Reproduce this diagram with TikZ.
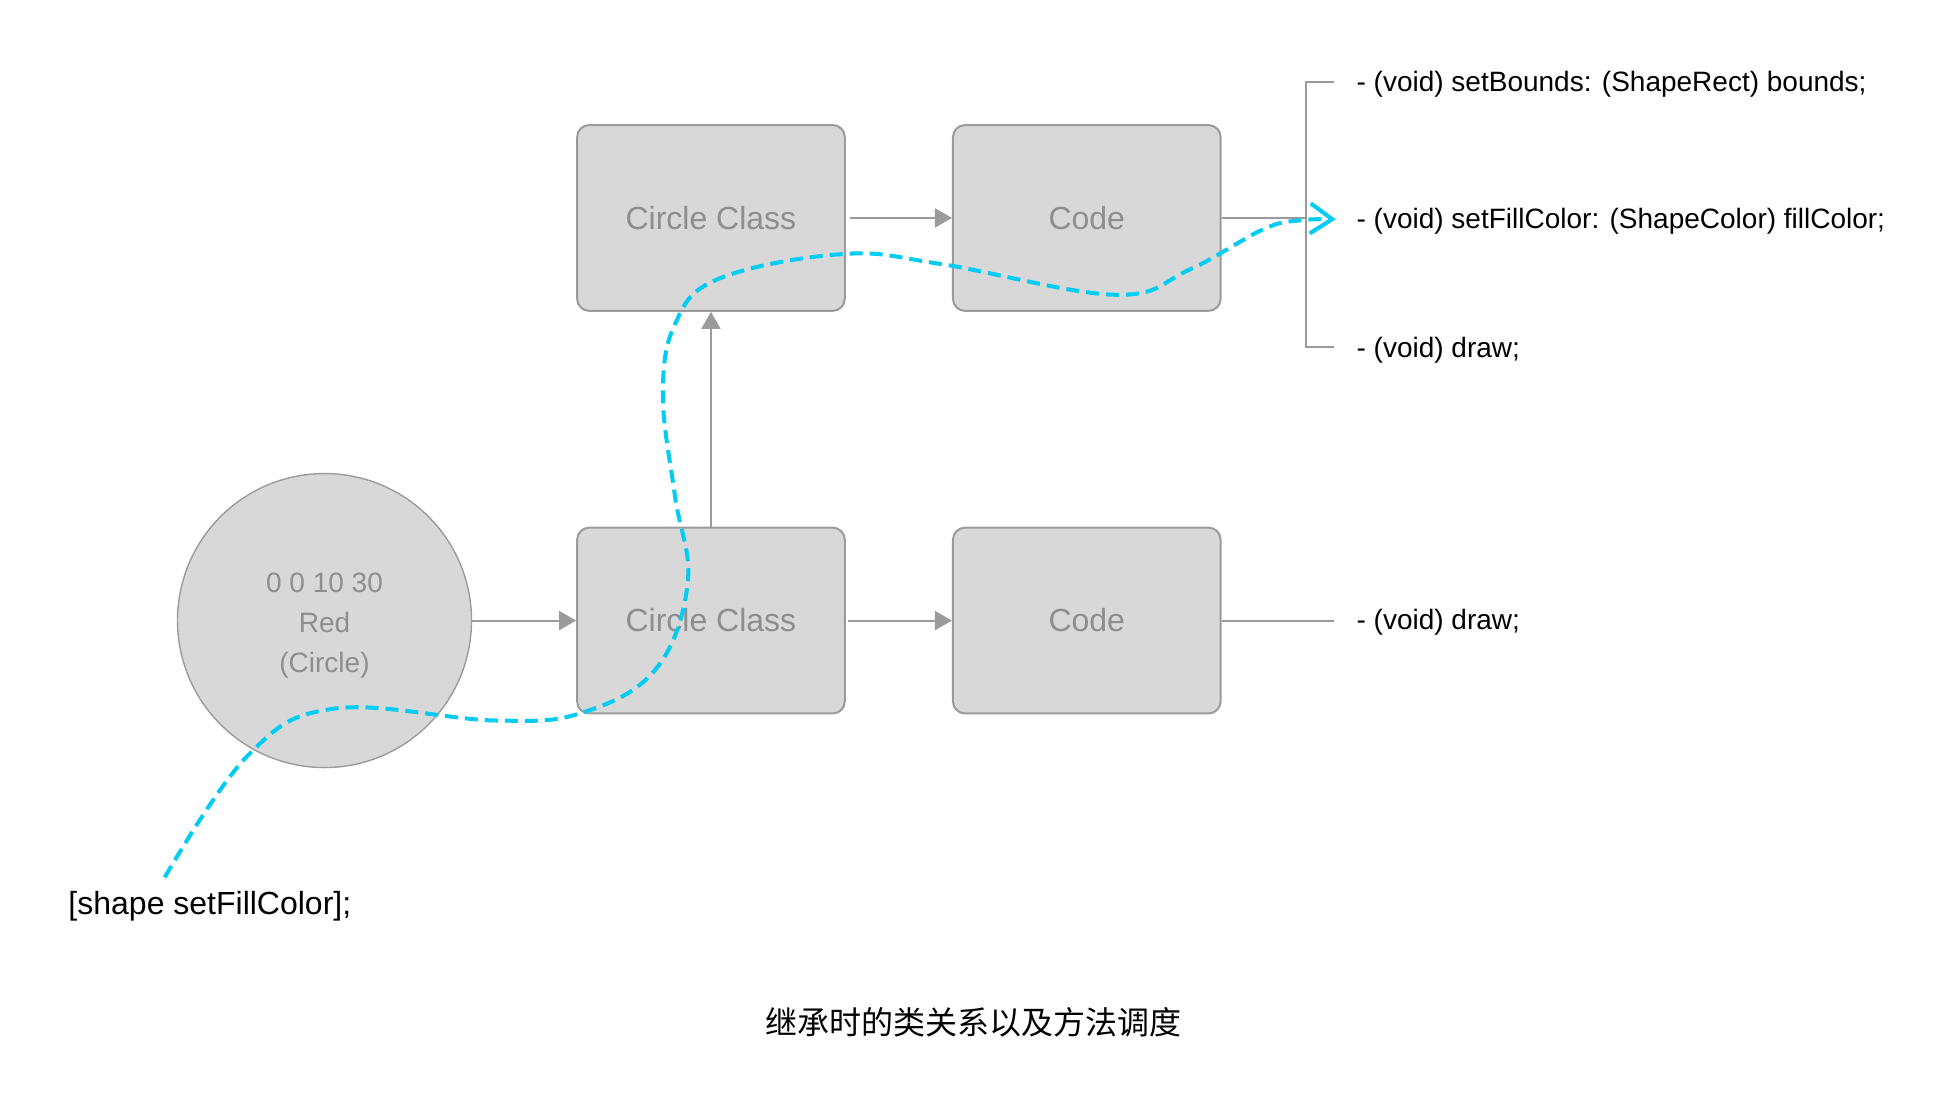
\documentclass[tikz,border=0pt]{standalone}
\usepackage{fontspec}
\setmainfont{Liberation Sans}
\newfontfamily\cjk{Noto Sans CJK SC}
\usetikzlibrary{arrows.meta}
\definecolor{boxfill}{HTML}{D8D8D8}
\definecolor{boxline}{HTML}{9B9B9B}
\definecolor{boxtext}{HTML}{8E8E8E}
\definecolor{callcyan}{HTML}{00CCF5}
\begin{document}
\begin{tikzpicture}[x=0.4962pt,y=-0.4962pt,
 classbox/.style={draw=boxline, fill=boxfill, line width=1pt, rounded corners=6pt, minimum width=133.8pt, minimum height=92.9pt, inner sep=0pt, text=boxtext, font=\fontsize{16}{19}\selectfont},
 objcircle/.style={circle, draw=boxline, fill=boxfill, line width=0.7pt, minimum size=147pt, inner sep=0pt},
 objtext/.style={text=boxtext, align=center, inner sep=0pt, font=\fontsize{14}{20}\selectfont},
 flow/.style={draw=boxline, line width=1pt, -{Triangle[length=8.5pt,width=9.5pt]}},
 plainline/.style={draw=boxline, line width=1pt},
 method/.style={anchor=west, inner sep=0pt, yshift=-1pt, font=\fontsize{14}{17}\selectfont},
 callpath/.style={draw=callcyan, line width=2pt, dash pattern=on 6.5pt off 3.5pt, -{Straight Barb[length=11pt,width=15pt,line width=2pt]}}
]
\useasboundingbox (0pt,0pt) rectangle (971pt,-549pt);

% boxes
\node[classbox] (tcc) at (716.4,219.6) {Circle Class};
\node[classbox] (tcode) at (1095.1,219.6) {Code};
\node[classbox] (bcc) at (716.4,625.3) {Circle Class};
\node[classbox] (bcode) at (1095.1,625.3) {Code};
\node[objcircle] (obj) at (327,625.3) {};
\node[objtext] (objtxt) at ([yshift=-2.5pt]obj.center) {0 0 10 30\\Red\\(Circle)};

% method texts
\node[method] (m1) at (1366.6,82.4) {- (void) setBounds: (ShapeRect) bounds;};
\node[method] (m2) at (1366.6,220.9) {- (void) setFillColor: (ShapeColor) fillColor;};
\node[method] (m3) at (1366.6,350.7) {- (void) draw;};
\node[method] (m4) at (1366.6,625.3) {- (void) draw;};

\node[method, font=\fontsize{16}{19}\selectfont] (call) at (68.6,911) {[shape setFillColor];};
\node[font=\cjk\fontsize{16}{19}\selectfont] (cap) at (981,1030) {继承时的类关系以及方法调度};

% bracket coordinates
\coordinate (b1) at (1344,82.4);
\coordinate (b3) at (1344,349.4);
\coordinate (bj) at (1315.5,219.6);
\coordinate (bend) at (1344,625.3);

% connectors
\draw[flow] (obj.east) -- (obj.east -| bcc.west);
\draw[flow] (bcc.north) -- (tcc.south);
\draw[flow, shorten <=2pt] (tcc.east) -- (tcode.west);
\draw[flow, shorten <=1pt] (bcc.east) -- (bcode.west);
\draw[plainline] (tcode.east) -- (tcode.east -| bj);
\draw[plainline] (b1) -- (bj |- b1) -- (bj |- b3) -- (b3);
\draw[plainline] (bcode.east) -- (bcode.east -| bend);

% message dispatch path
\coordinate (cstart) at (166,884);
\coordinate (cend) at (1346,221);
\draw[callpath] plot[smooth, tension=0.65] coordinates {(cstart) (250,761) (337,714) (499,726) (587,718) (661,674) (693,587) (680,499) (668,399) (680,327) (724,281) (849,256) (948,266) (1123,297) (1198,272) (1273,231) (1310,222) (cend)};
\end{tikzpicture}
\end{document}
